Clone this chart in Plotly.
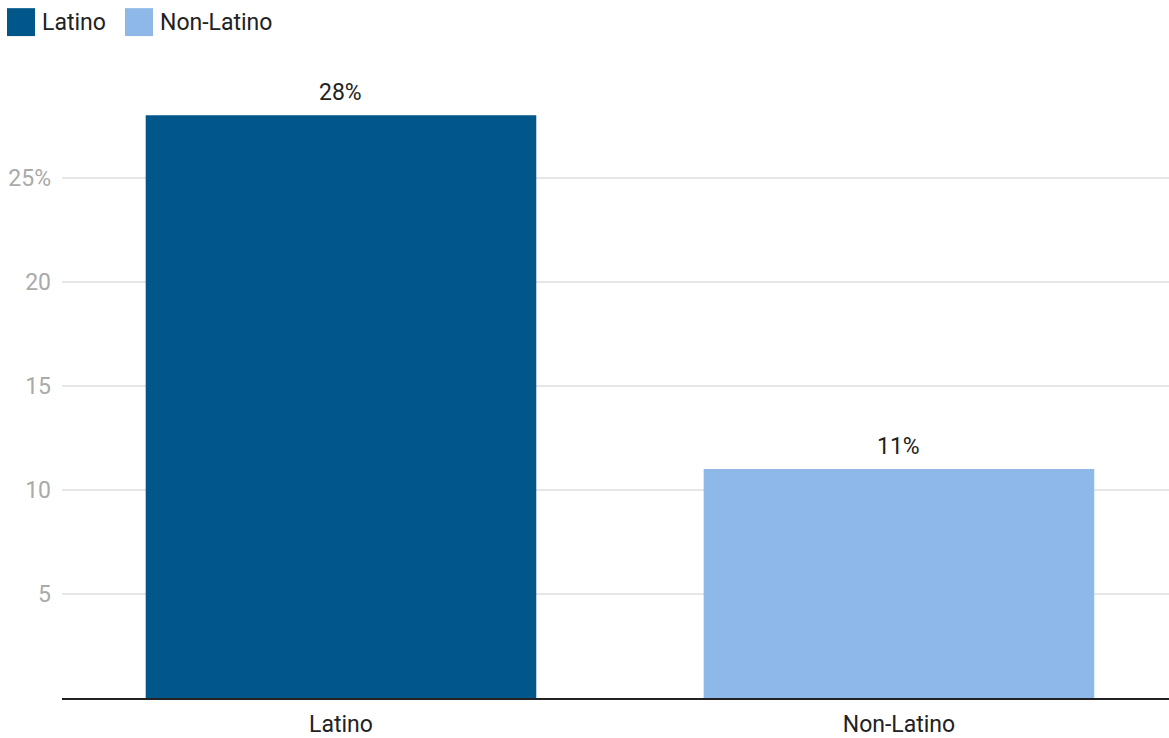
import plotly.graph_objects as go

categories = ["Latino", "Non-Latino"]
values = [28, 11]
bar_labels = ["28%", "11%"]
colors = ["#01568A", "#8DB8E8"]
y_tickvals = [5, 10, 15, 20, 25]
y_ticktext = ["5", "10", "15", "20", "25%"]

FS = 23
fig = go.Figure()
fig.add_trace(go.Bar(
    x=categories, y=values,
    marker=dict(color=colors, line=dict(width=0)),
    width=0.7,
    showlegend=False,
    hoverinfo="skip",
))

W, H = 1169, 738
shapes = []
annotations = []

# Value labels above bars
for c, v, t in zip(categories, values, bar_labels):
    annotations.append(dict(x=c, y=v, xref="x", yref="y", text=t, showarrow=False,
                            xanchor="center", yanchor="bottom", yshift=7,
                            font=dict(family="Roboto", size=FS, color="#222222")))

# Legend drawn as shapes + text in paper coordinates
legend_items = [(categories[0], colors[0], 7, 40), (categories[1], colors[1], 125, 158)]
for name, col, sx, tx in legend_items:
    shapes.append(dict(type="rect", xref="paper", yref="paper",
                       x0=(sx - 62) / (W - 62), x1=(sx + 28 - 62) / (W - 62),
                       y0=(700 - 36) / (700 - 60), y1=(700 - 8) / (700 - 60),
                       fillcolor=col, line=dict(width=0), layer="above"))
    annotations.append(dict(xref="paper", yref="paper",
                            x=(tx - 62) / (W - 62), y=(700 - 22) / (700 - 60),
                            xanchor="left", yanchor="middle", showarrow=False,
                            text=name, font=dict(family="Roboto", size=FS, color="#222222")))

fig.update_layout(
    width=W, height=H,
    margin=dict(l=62, r=0, t=60, b=38),
    paper_bgcolor="white", plot_bgcolor="white",
    font=dict(family="Roboto", size=FS, color="#222222"),
    shapes=shapes, annotations=annotations,
    xaxis=dict(range=[-0.5, 1.484], showgrid=False, showline=True,
               linecolor="#222222", linewidth=2, ticks="",
               ticklabelstandoff=4,
               tickfont=dict(family="Roboto", size=FS, color="#222222"),
               fixedrange=True),
    yaxis=dict(range=[0, 30.65], tickvals=y_tickvals, ticktext=y_ticktext,
               showgrid=True, gridcolor="#E6E6E6", gridwidth=1.5,
               zeroline=False, showline=False, ticks="",
               ticklabelstandoff=10,
               tickfont=dict(family="Roboto", size=FS, color="#AAAAAA"),
               fixedrange=True),
)

fig.write_html("out.html")
